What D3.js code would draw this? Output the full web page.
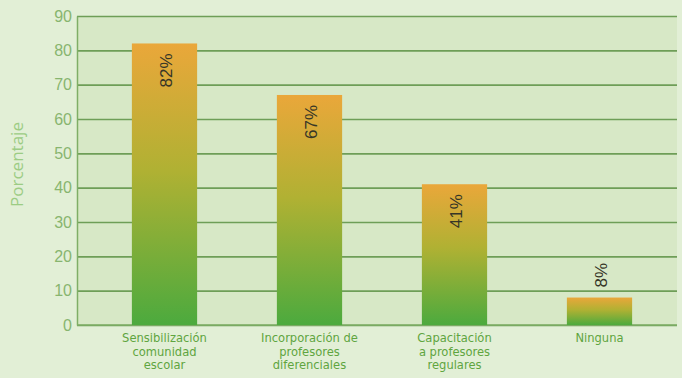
<!DOCTYPE html>
<html>
<head>
<meta charset="utf-8">
<script src="https://cdn.jsdelivr.net/npm/d3@7"></script>
<style>
  body { margin: 0; background: #e2efd6; }
  svg { display: block; }
</style>
</head>
<body>
<div id="chart"></div>
<script>
// chart data
var categories = [
    ["Sensibilización", "comunidad", "escolar"],
    ["Incorporación de", "profesores", "diferenciales"],
    ["Capacitación", "a profesores", "regulares"],
    ["Ninguna"]
];
var values = [82, 67, 41, 8];
var yTicks = [0, 10, 20, 30, 40, 50, 60, 70, 80, 90];

var svgWidth = 682;
var svgHeight = 378;

var margin = { top: 16, right: 5, bottom: 53, left: 77 };
var chart_width = svgWidth - margin.left - margin.right;
var chart_height = svgHeight - margin.top - margin.bottom;

var svg = d3.select("#chart")
    .append("svg")
    .attr("width", svgWidth)
    .attr("height", svgHeight);

// gradient for the bars (orange on top, green at the bottom)
var grad = svg.append("defs").append("linearGradient")
    .attr("id", "barGrad")
    .attr("x1", 0).attr("y1", 0)
    .attr("x2", 0).attr("y2", 1);
grad.append("stop").attr("offset", "0%").attr("stop-color", "#eaa73a");
grad.append("stop").attr("offset", "45%").attr("stop-color", "#b0b133");
grad.append("stop").attr("offset", "100%").attr("stop-color", "#4caa3e");

var chartGroup = svg.append("g")
    .attr("transform", `translate(${margin.left}, ${margin.top})`);

var xScale = d3.scaleBand()
    .domain(d3.range(categories.length))
    .range([15, 595])
    .paddingInner(0.55)
    .paddingOuter(0.275);

var yScale = d3.scaleLinear()
    .domain([0, 90])
    .range([chart_height, 0]);

// plot background
chartGroup.append("rect")
    .attr("width", chart_width)
    .attr("height", chart_height)
    .attr("fill", "#d7e8c6");

// gridlines
chartGroup.append("g")
    .call(d3.axisLeft(yScale).tickValues(yTicks).tickSize(-chart_width).tickFormat(""))
    .call(g => g.select(".domain").remove())
    .call(g => g.selectAll("line").attr("stroke", "#6e9e57").attr("stroke-width", 1.6));

// y axis line + labels
var leftAxis = d3.axisLeft(yScale).tickValues(yTicks).tickSize(0).tickPadding(5);
chartGroup.append("g")
    .call(leftAxis)
    .call(g => g.select(".domain").attr("stroke", "#7fae66").attr("stroke-width", 1.5))
    .call(g => g.selectAll("text")
        .attr("fill", "#88b56f")
        .attr("font-family", "Liberation Sans, Arial, sans-serif")
        .attr("font-size", 16));

// bottom axis line
chartGroup.append("line")
    .attr("x1", 0).attr("x2", chart_width)
    .attr("y1", chart_height).attr("y2", chart_height)
    .attr("stroke", "#7fae66").attr("stroke-width", 1.6);

// bars
chartGroup.selectAll(".bar")
    .data(values)
    .enter()
    .append("rect")
    .attr("class", "bar")
    .attr("x", (d, i) => xScale(i))
    .attr("y", d => yScale(d))
    .attr("width", xScale.bandwidth())
    .attr("height", d => chart_height - yScale(d))
    .attr("fill", "url(#barGrad)");

// value labels (rotated)
chartGroup.selectAll(".valText")
    .data(values)
    .enter()
    .append("text")
    .attr("class", "valText")
    .attr("transform", function(d, i) {
        var x = xScale(i) + xScale.bandwidth() / 2 + 7;
        var y = d > 20 ? yScale(d) + 10 : yScale(d) - 10;
        return `translate(${x}, ${y}) rotate(-90)`;
    })
    .attr("text-anchor", d => d > 20 ? "end" : "start")
    .attr("font-family", "Liberation Sans, Arial, sans-serif")
    .attr("font-size", 17)
    .attr("fill", "#363627")
    .text(d => d + "%");

// category labels, one text per line
categories.forEach(function(lines, i) {
    chartGroup.selectAll(".cat" + i)
        .data(lines)
        .enter()
        .append("text")
        .attr("class", "cat" + i)
        .attr("x", xScale(i) + xScale.bandwidth() / 2)
        .attr("y", (d, j) => chart_height + 17 + j * 13.5)
        .attr("text-anchor", "middle")
        .attr("font-family", "DejaVu Sans Condensed, sans-serif")
        .attr("font-size", 12.8)
        .attr("fill", "#5fa53f")
        .text(d => d);
});

// y axis title
chartGroup.append("text")
    .attr("transform", "rotate(-90)")
    .attr("x", -(chart_height / 2) + 6)
    .attr("y", -54)
    .attr("text-anchor", "middle")
    .attr("font-family", "Open Sans, Noto Sans, sans-serif")
    .attr("font-size", 17)
    .attr("fill", "#9ccc84")
    .text("Porcentaje");
</script>
</body>
</html>
